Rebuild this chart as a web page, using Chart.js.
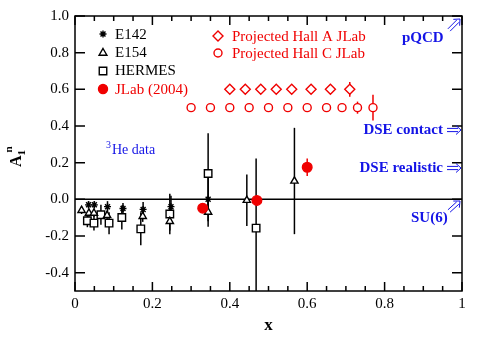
<!DOCTYPE html>
<html><head><meta charset="utf-8">
<script src="https://cdn.jsdelivr.net/npm/chart.js@4.4.1/dist/chart.umd.min.js"></script>
<style>html,body{margin:0;padding:0;background:#fff}#wrap{width:479px;height:337px}</style>
</head><body><div id="wrap"><canvas id="c" width="479" height="337"></canvas></div>
<script>
const xTicks = [0, 0.2, 0.4, 0.6, 0.8, 1];
const yTicks = [-0.4, -0.2, 0, 0.2, 0.4, 0.6, 0.8, 1.0];

// E142 (asterisks)
const e142X   = [0.035, 0.050, 0.084, 0.124, 0.176, 0.248, 0.344];
const e142Y   = [-0.030, -0.030, -0.040, -0.050, -0.055, -0.040, 0.000];
const e142Err = [0.020, 0.020, 0.030, 0.030, 0.040, 0.060, 0.120];
// E154 (triangles)
const e154X   = [0.017, 0.036, 0.049, 0.083, 0.175, 0.245, 0.344, 0.444, 0.567];
const e154Y   = [-0.060, -0.075, -0.075, -0.088, -0.093, -0.120, -0.070, -0.005, 0.100];
const e154Err = [0.020, 0.020, 0.020, 0.025, 0.030, 0.050, 0.080, 0.140, 0.290];
// HERMES (squares)
const hermX   = [0.032, 0.049, 0.067, 0.088, 0.121, 0.170, 0.245, 0.344, 0.468];
const hermY   = [-0.117, -0.130, -0.084, -0.130, -0.099, -0.161, -0.080, 0.141, -0.157];
const hermErr = [0.035, 0.040, 0.055, 0.060, 0.065, 0.090, 0.110, 0.220, 0.380];
// JLab (2004)
const jlabX   = [0.33, 0.47, 0.60];
const jlabY   = [-0.048, -0.006, 0.175];
const jlabErr = [0.024, 0.027, 0.048];
// Projected Hall A
const hallAX   = [0.40, 0.44, 0.48, 0.52, 0.56, 0.61, 0.66, 0.71];
const hallAY   = [0.60, 0.60, 0.60, 0.60, 0.60, 0.60, 0.60, 0.60];
const hallAErr = [0, 0, 0, 0, 0, 0, 0, 0.04];
// Projected Hall C
const hallCX   = [0.30, 0.35, 0.40, 0.45, 0.50, 0.55, 0.60, 0.65, 0.69, 0.73, 0.77];
const hallCY   = [0.50, 0.50, 0.50, 0.50, 0.50, 0.50, 0.50, 0.50, 0.50, 0.50, 0.50];
const hallCErr = [0, 0, 0, 0, 0, 0, 0, 0, 0, 0.033, 0.07];

const RED = '#f00000', BLUE = '#1414e6';
const SERIF = "'Liberation Serif','Times New Roman',serif";
const pts = (xs, ys) => xs.map((x, i) => ({x, y: ys[i]}));

function ds(label, xs, ys, err, style, r, col, fill, order){
  return { label, data: pts(xs, ys), err, pointStyle: style, pointRadius: r, pointHoverRadius: r,
    pointBorderColor: col, pointBackgroundColor: fill, pointBorderWidth: 1.4, order };
}

// thin double arrow (like \Rightarrow), from (x0,y0) towards (x1,y1)
function dblArrow(ctx, x0, y0, x1, y1){
  const dx = x1 - x0, dy = y1 - y0, L = Math.hypot(dx, dy), ux = dx/L, uy = dy/L, nx = -uy, ny = ux;
  ctx.save(); ctx.strokeStyle = BLUE; ctx.lineWidth = 1;
  ctx.beginPath();
  [-1.6, 1.6].forEach(o => { ctx.moveTo(x0 + nx*o, y0 + ny*o); ctx.lineTo(x1 - ux*3 + nx*o, y1 - uy*3 + ny*o); });
  ctx.moveTo(x1 - ux*5 + nx*4.5, y1 - uy*5 + ny*4.5); ctx.lineTo(x1, y1); ctx.lineTo(x1 - ux*5 - nx*4.5, y1 - uy*5 - ny*4.5);
  ctx.stroke(); ctx.restore();
}

// error bars, zero line, inward ticks, frame and the texts
const decor = {
  id: 'decor',
  beforeDatasetsDraw(chart){
    const {ctx, chartArea: a, scales: {x, y}} = chart;
    ctx.save();
    ctx.beginPath(); ctx.rect(a.left, a.top, a.right - a.left, a.bottom - a.top); ctx.clip();
    ctx.strokeStyle = '#000'; ctx.lineWidth = 1.5;
    ctx.beginPath(); ctx.moveTo(a.left, y.getPixelForValue(0)); ctx.lineTo(a.right, y.getPixelForValue(0)); ctx.stroke();
    chart.data.datasets.forEach(d => {
      ctx.strokeStyle = d.pointBorderColor; ctx.lineWidth = 1.5;
      d.data.forEach((p, i) => {
        const e = d.err[i]; if(!e) return;
        const px = x.getPixelForValue(p.x);
        ctx.beginPath(); ctx.moveTo(px, y.getPixelForValue(p.y - e)); ctx.lineTo(px, y.getPixelForValue(p.y + e)); ctx.stroke();
      });
    });
    ctx.restore();
  },
  afterDraw(chart){
    const {ctx, chartArea: a, scales: {x, y}} = chart;
    ctx.save();
    ctx.strokeStyle = '#000'; ctx.lineWidth = 1.5;
    ctx.strokeRect(a.left, a.top, a.right - a.left, a.bottom - a.top);
    ctx.beginPath();
    for(let v = 0; v <= 1.0001; v += 0.05){
      const px = x.getPixelForValue(v), major = Math.abs(v*5 - Math.round(v*5)) < 1e-6, L = major ? 9 : 5;
      ctx.moveTo(px, a.bottom); ctx.lineTo(px, a.bottom - L);
      ctx.moveTo(px, a.top); ctx.lineTo(px, a.top + L);
    }
    yTicks.forEach(v => {
      const py = y.getPixelForValue(v);
      ctx.moveTo(a.left, py); ctx.lineTo(a.left + 10, py);
      ctx.moveTo(a.right, py); ctx.lineTo(a.right - 10, py);
    });
    ctx.stroke();

    // legend
    const mark = (style, px, py, r, col, fill) => {
      ctx.save(); ctx.strokeStyle = col; ctx.fillStyle = fill; ctx.lineWidth = 1.4;
      ctx.beginPath();
      if(style === 'star'){
        for(let k = 0; k < 4; k++){ const t = k*Math.PI/4; ctx.moveTo(px - r*Math.cos(t), py - r*Math.sin(t)); ctx.lineTo(px + r*Math.cos(t), py + r*Math.sin(t)); }
        ctx.stroke();
      } else {
        if(style === 'triangle'){ ctx.moveTo(px, py - r); ctx.lineTo(px + r*0.87, py + r/2); ctx.lineTo(px - r*0.87, py + r/2); ctx.closePath(); }
        else if(style === 'rect'){ const s = r*0.75; ctx.rect(px - s, py - s, 2*s, 2*s); }
        else if(style === 'rectRot'){ ctx.moveTo(px, py - r); ctx.lineTo(px + r, py); ctx.lineTo(px, py + r); ctx.lineTo(px - r, py); ctx.closePath(); }
        else ctx.arc(px, py, r, 0, Math.PI*2);
        ctx.fill(); ctx.stroke();
      }
      ctx.restore();
    };
    ctx.textBaseline = 'middle'; ctx.textAlign = 'left';
    ctx.font = '15px ' + SERIF;
    mark('star', 103, 34, 3.5, '#000', '#fff');     ctx.fillStyle = '#000'; ctx.fillText('E142', 115, 35);
    mark('triangle', 103, 53, 4.5, '#000', '#fff'); ctx.fillStyle = '#000'; ctx.fillText('E154', 115, 53);
    mark('rect', 103, 71, 5, '#000', '#fff');       ctx.fillStyle = '#000'; ctx.fillText('HERMES', 115, 71);
    mark('circle', 103, 89, 4.5, RED, RED);         ctx.fillStyle = RED; ctx.fillText('JLab (2004)', 115, 90);
    mark('rectRot', 218, 36, 5, RED, '#fff');       ctx.fillStyle = RED; ctx.fillText('Projected Hall A JLab', 232, 37);
    mark('circle', 218, 53, 4, RED, '#fff');        ctx.fillStyle = RED; ctx.fillText('Projected Hall C JLab', 232, 54);

    // model labels
    ctx.fillStyle = BLUE;
    ctx.font = 'bold 15px ' + SERIF;
    ctx.fillText('pQCD', 402, 38);
    ctx.fillText('SU(6)', 411, 218);
    ctx.textAlign = 'right';
    ctx.fillText('DSE contact', 443, 130);
    ctx.fillText('DSE realistic', 443, 168);
    dblArrow(ctx, 447, 130, 461, 130);
    dblArrow(ctx, 447, 168, 461, 168);
    dblArrow(ctx, 449, 30, 460, 19);
    dblArrow(ctx, 449, 211, 460, 201);
    ctx.textAlign = 'left';
    ctx.font = '10px ' + SERIF;
    ctx.fillText('3', 106, 145);
    ctx.font = '14px ' + SERIF;
    ctx.fillText('He data', 112, 150);

    // axis titles
    ctx.fillStyle = '#000';
    ctx.font = 'bold 17px ' + SERIF;
    ctx.textAlign = 'center'; ctx.textBaseline = 'middle';
    ctx.fillText('x', (a.left + a.right)/2, 326);
    ctx.save();
    ctx.translate(21, 167); ctx.rotate(-Math.PI/2);
    ctx.textAlign = 'left'; ctx.textBaseline = 'alphabetic';
    ctx.font = 'bold 16px ' + SERIF; ctx.fillText('A', 0, 0);
    const aw = ctx.measureText('A').width;
    ctx.font = 'bold 11px ' + SERIF; ctx.fillText('1', aw, 4);
    ctx.fillText('n', aw + 3, -9);
    ctx.restore();
    ctx.restore();
  }
};

new Chart(document.getElementById('c'), {
  type: 'scatter',
  data: { datasets: [
    ds('JLab (2004)', jlabX, jlabY, jlabErr, 'circle', 4.8, RED, RED, 0),
    ds('E142', e142X, e142Y, e142Err, 'star', 3.5, '#000', '#fff', 1),
    ds('E154', e154X, e154Y, e154Err, 'triangle', 4.2, '#000', '#fff', 2),
    ds('HERMES', hermX, hermY, hermErr, 'rect', 5.3, '#000', '#fff', 3),
    ds('Projected Hall A JLab', hallAX, hallAY, hallAErr, 'rectRot', 5, RED, '#fff', 4),
    ds('Projected Hall C JLab', hallCX, hallCY, hallCErr, 'circle', 4, RED, '#fff', 5)
  ]},
  options: {
    responsive: false, animation: false,
    layout: { padding: { left: 0, right: 17, top: 16, bottom: 0 } },
    plugins: { legend: { display: false }, tooltip: { enabled: false } },
    scales: {
      x: { type: 'linear', min: 0, max: 1,
        afterBuildTicks: s => { s.ticks = xTicks.map(v => ({value: v})); },
        afterFit: s => { s.height = 46; },
        grid: { display: false, drawTicks: false }, border: { display: false },
        ticks: { autoSkip: false, maxRotation: 0, padding: 4, color: '#000', font: { family: SERIF, size: 15 },
          callback: v => (v === 0 || v === 1) ? String(v) : v.toFixed(1) } },
      y: { type: 'linear', min: -0.5, max: 1.0,
        afterBuildTicks: s => { s.ticks = yTicks.map(v => ({value: v})); },
        afterFit: s => { s.width = 75; },
        grid: { display: false, drawTicks: false }, border: { display: false },
        ticks: { autoSkip: false, padding: 6, color: '#000', font: { family: SERIF, size: 15 },
          callback: v => v.toFixed(1) } }
    }
  },
  plugins: [decor]
});
</script></body></html>
